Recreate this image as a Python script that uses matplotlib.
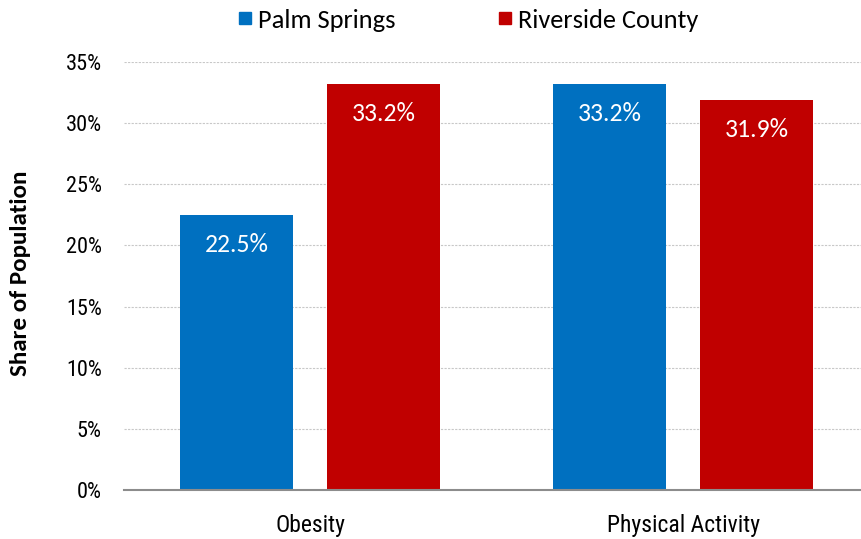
import matplotlib
matplotlib.use("Agg")
import matplotlib.pyplot as plt
import numpy as np
from matplotlib.lines import Line2D

categories = ["Obesity", "Physical Activity"]
series_names = ["Palm Springs", "Riverside County"]
palm_springs = [22.5, 33.2]
riverside = [33.2, 31.9]
yticks = [0, 5, 10, 15, 20, 25, 30, 35]

colors = ["#0070C0", "#C00000"]

narrow = ["Roboto Condensed", "Archivo Narrow", "DejaVu Sans"]
soft = ["Carlito", "Lato", "DejaVu Sans"]

fig = plt.figure(figsize=(8.61, 5.39), dpi=100)
ax = fig.add_axes([124/861, 1 - 490/539, (861-124)/861, (490-62)/539])

x = np.arange(len(categories))
w = 0.303
off = 0.197
for vals, c, o in [(palm_springs, colors[0], -off), (riverside, colors[1], off)]:
    bars = ax.bar(x + o, vals, width=w, color=c, zorder=3)
    for b, v in zip(bars, vals):
        ax.annotate(f"{v:.1f}%", (b.get_x() + b.get_width()/2, v), xytext=(0, -21),
                    textcoords="offset points", ha="center", va="center",
                    color="white", fontsize=18.5, family=soft, zorder=4)

ax.set_xlim(-0.4987, 1.477)
ax.set_ylim(0, 35)
ax.set_yticks(yticks)
ax.set_yticklabels([f"{t}%" for t in yticks], family=narrow, fontsize=16)
ax.set_xticks(x)
ax.set_xticklabels(categories, family=narrow, fontsize=17)
ax.tick_params(length=0)
ax.tick_params(axis="x", pad=17)
ax.tick_params(axis="y", pad=16)
ax.grid(axis="y", color="#C8C8C8", linestyle=(0, (2, 1.2)), linewidth=0.8, zorder=0)
for s in ["top", "right", "left"]:
    ax.spines[s].set_visible(False)
ax.spines["bottom"].set_color("#8C8C8C")
ax.spines["bottom"].set_linewidth(1.5)
ax.spines["bottom"].set_zorder(5)

ax.set_ylabel("Share of Population", family=soft, fontweight="bold", fontsize=18)
ax.yaxis.set_label_coords(-(124 - 31) / 737, (490 - 273) / 428)

handles = [Line2D([], [], marker="s", linestyle="", markersize=8, color=c) for c in colors]
fig.legend(handles, series_names, loc="center", bbox_to_anchor=(468.5/861, 1 - 20/539), ncol=2,
           frameon=False, prop={"family": soft, "size": 19}, handletextpad=0.25, columnspacing=3.9,
           handlelength=0.5, borderpad=0, borderaxespad=0)

fig.savefig("out.png", dpi=100)
